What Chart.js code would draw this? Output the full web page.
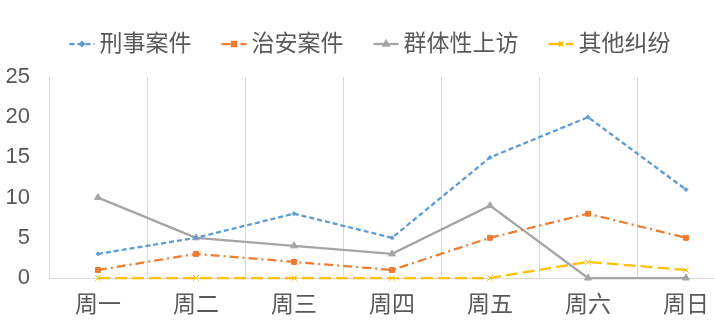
<!DOCTYPE html>
<html>
<head>
<meta charset="utf-8">
<script src="https://cdn.jsdelivr.net/npm/chart.js@4"></script>
<style>
  html, body { margin: 0; padding: 0; background: #fff; overflow: hidden; }
  #wrap { width: 740px; height: 332px; }
</style>
</head>
<body>
<div id="wrap"><canvas id="chart" width="740" height="332"></canvas></div>
<script>
var categories = ['周一', '周二', '周三', '周四', '周五', '周六', '周日'];
var seriesNames = ['刑事案件', '治安案件', '群体性上访', '其他纠纷'];
var criminal = [3, 5, 8, 5, 15, 20, 11];
var publicOrder = [1, 3, 2, 1, 5, 8, 5];
var petitions = [10, 5, 4, 3, 9, 0, 0];
var disputes = [0, 0, 0, 0, 0, 2, 1];
var yTicks = [0, 5, 10, 15, 20, 25];

var fontFamily = '"Liberation Sans", "Noto Sans CJK SC", sans-serif';
var textColor = '#595959';
var gridColor = '#d9d9d9';

function series(label, data, color, dash, pointStyle, radius) {
  return {
    label: label,
    data: data,
    borderColor: color,
    backgroundColor: color,
    borderWidth: 2.25,
    borderDash: dash,
    pointStyle: pointStyle,
    pointRadius: radius,
    pointBorderWidth: 1,
    clip: false,
    tension: 0
  };
}

// legend drawn by hand so the dashed sample lines look like the original
var lineLegend = {
  id: 'lineLegend',
  afterDraw: function (chart) {
    var c = chart.ctx;
    var boxW = 25, gap = 5, spacing = 30, y = 44;
    c.save();
    c.font = '23px ' + fontFamily;
    var widths = chart.data.datasets.map(function (ds) { return c.measureText(ds.label).width; });
    var total = 0;
    widths.forEach(function (w) { total += boxW + gap + w; });
    total += spacing * (widths.length - 1);
    var x = (chart.width - total) / 2;
    chart.data.datasets.forEach(function (ds, i) {
      c.strokeStyle = ds.borderColor;
      c.lineWidth = ds.borderWidth;
      c.setLineDash(ds.borderDash);
      c.beginPath();
      c.moveTo(x, y);
      c.lineTo(x + boxW, y);
      c.stroke();
      c.setLineDash([]);
      c.fillStyle = ds.backgroundColor;
      Chart.helpers.drawPoint(c, {
        pointStyle: ds.pointStyle, radius: Math.min(ds.pointRadius, 3), borderWidth: 1, rotation: 0
      }, x + boxW / 2, y);
      c.fillStyle = textColor;
      c.textBaseline = 'middle';
      c.fillText(ds.label, x + boxW + gap, y + 1);
      x += boxW + gap + widths[i] + spacing;
    });
    c.restore();
  }
};

var ctx = document.getElementById('chart').getContext('2d');
new Chart(ctx, {
  type: 'line',
  data: {
    labels: categories,
    datasets: [
      series(seriesNames[0], criminal, '#5b9bd5', [5, 3], 'rectRot', 2),
      series(seriesNames[1], publicOrder, '#ed7d31', [9, 4, 2, 4], 'rect', 3.5),
      series(seriesNames[2], petitions, '#a5a5a5', [], 'triangle', 4),
      series(seriesNames[3], disputes, '#ffc000', [12, 5], 'crossRot', 4)
    ]
  },
  plugins: [lineLegend],
  options: {
    responsive: false,
    animation: false,
    layout: { padding: { left: 0, right: 5, top: 77, bottom: 0 } },
    plugins: {
      legend: { display: false },
      tooltip: { enabled: false }
    },
    scales: {
      x: {
        offset: true,
        afterFit: function (axis) { axis.height = 54; },
        grid: { display: true, offset: true, color: gridColor, lineWidth: 1, drawTicks: false },
        border: { display: true, color: gridColor },
        ticks: { font: { family: fontFamily, size: 23 }, color: textColor, padding: 14 }
      },
      y: {
        min: 0,
        max: 25,
        afterFit: function (axis) { axis.width = 49; },
        afterBuildTicks: function (axis) {
          axis.ticks = yTicks.map(function (v) { return { value: v }; });
        },
        grid: { display: false, drawTicks: false },
        border: { display: true, color: gridColor },
        ticks: { font: { family: fontFamily, size: 22 }, color: textColor, padding: 19 }
      }
    }
  }
});
</script>
</body>
</html>
